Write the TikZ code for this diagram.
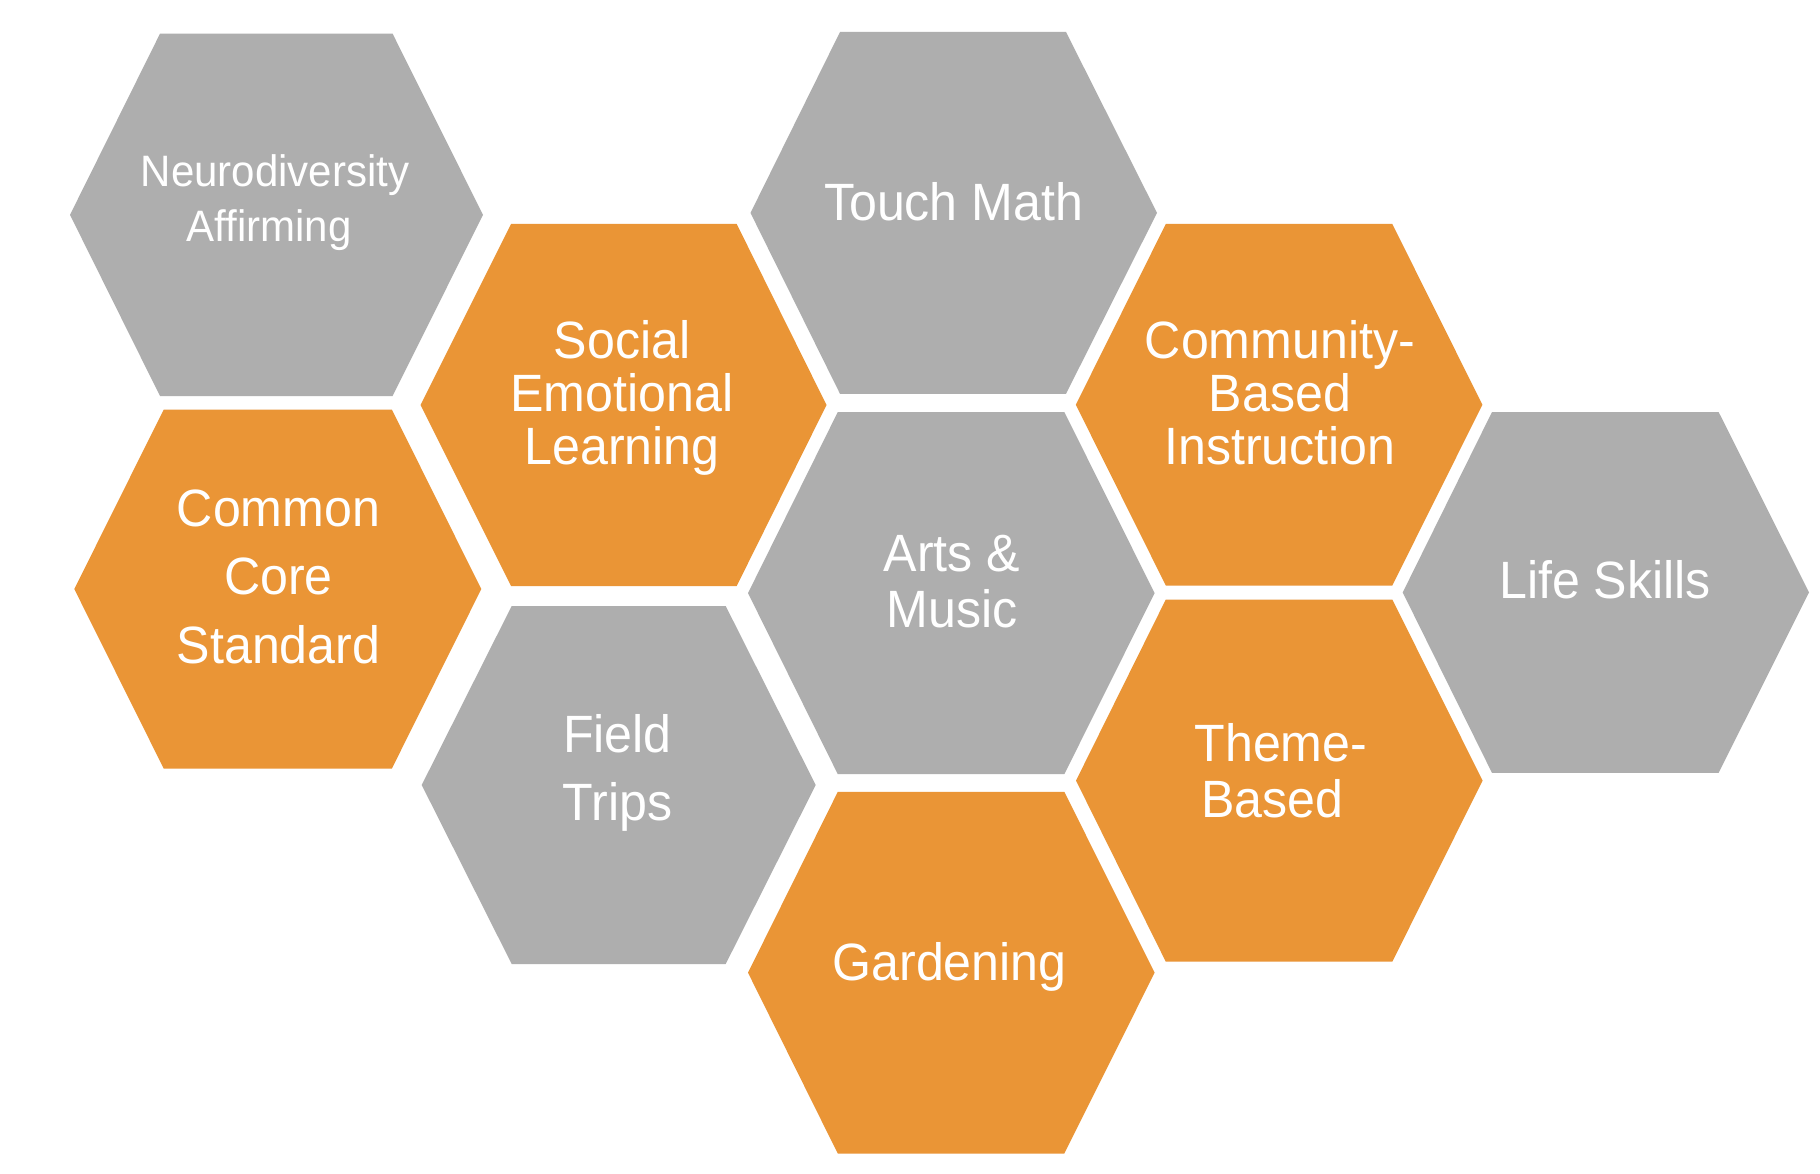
\documentclass[tikz,border=0pt]{standalone}
\usepackage{fontspec}
\newfontfamily\hexfont{Liberation Sans}[FakeStretch=0.955]
\definecolor{hexgray}{RGB}{174,174,174}
\definecolor{hexorange}{RGB}{234,149,54}
\tikzset{
  hexg/.style={fill=hexgray},
  hexo/.style={fill=hexorange},
  lbl/.style={text=white, anchor=north, inner sep=0pt, align=center,
    font=\hexfont\fontsize{52.5}{#1}\selectfont},
  lbl/.default=53,
  smalllbl/.style={text=white, anchor=north, inner sep=0pt, align=center,
    font=\hexfont\fontsize{44}{#1}\selectfont},
}
% left x, right x, top y, bottom y, top-left x, top-right x, style
\newcommand\hexa[7]{\fill[#7] ({#1},{(#3+#4)/2}) -- ({#5},{#3}) -- ({#6},{#3}) -- ({#2},{(#3+#4)/2}) -- ({#6},{#4}) -- ({#5},{#4}) -- cycle;}
\begin{document}
\begin{tikzpicture}[x=1pt,y=-1pt]
\fill[white] (0,0) rectangle (1820,1174);
\useasboundingbox (0,0) rectangle (1820,1174);
% hexagons
\hexa{70}{483}{33.7}{396}{160}{392.6}{hexg}
\hexa{420.6}{826.5}{224}{586}{511}{736.7}{hexo}
\hexa{750.5}{1157}{32}{393.8}{840}{1066}{hexg}
\hexa{1075.8}{1482.4}{224}{585.5}{1165.8}{1392.3}{hexo}
\hexa{74.3}{481.3}{409.6}{768.5}{163.7}{391.9}{hexo}
\hexa{748}{1154.6}{412}{774.2}{837.8}{1064.3}{hexg}
\hexa{1402.7}{1809}{412}{772.9}{1492}{1718.6}{hexg}
\hexa{421.7}{815.7}{606}{964}{511.7}{725.7}{hexg}
\hexa{1076}{1482.6}{599.5}{961.7}{1165.8}{1392.3}{hexo}
\hexa{748}{1154.6}{791.8}{1153.6}{837.8}{1064.3}{hexo}
% labels
\node[smalllbl=55.5] (neuro) at (275,154) {Neurodiversity\\Affirming\hspace*{11.6pt}};
\node[lbl=53.2] (sel) at (622,320) {Social\\Emotional\\Learning};
\node[lbl] (touch) at (953.6,182) {Touch Math};
\node[lbl=52.8] (cbi) at (1280,320.3) {Community-\\Based\\Instruction};
\node[lbl=68.2] (ccs) at (278.5,489.9) {Common\\Core\\Standard};
\node[lbl=56] (arts) at (952,535) {Arts \&\\Music};
\node[lbl] (life) at (1605,560.6) {Life Skills};
\node[lbl=68] (field) at (617.5,714) {Field\\Trips};
\node[lbl=56] (theme) at (1272.5,723.3) {Theme\rlap{-}\\Based};
\node[lbl] (garden) at (949.5,941.8) {Gardening};
\end{tikzpicture}
\end{document}
